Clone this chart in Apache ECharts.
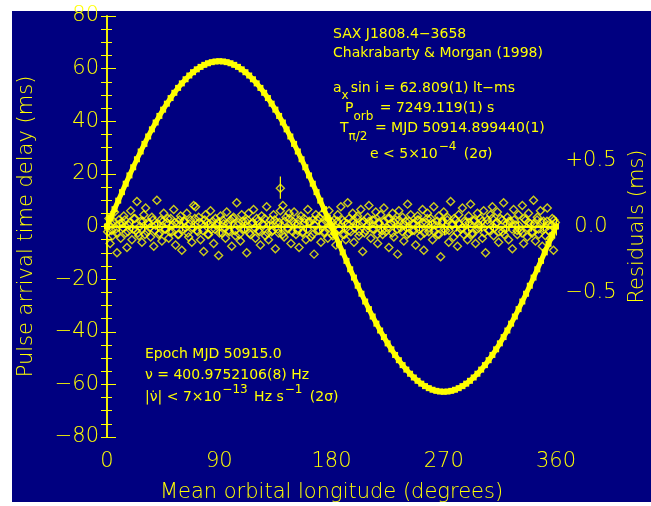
<!DOCTYPE html>
<html>
<head>
<meta charset="utf-8">
<script src="https://cdn.jsdelivr.net/npm/echarts@6/dist/echarts.min.js"></script>
<style>
html,body{margin:0;padding:0;background:#fff;}
#bg{position:absolute;left:12px;top:11px;width:639px;height:491px;background:#000080;}
#chart{position:absolute;left:0;top:0;width:651px;height:506px;}
</style>
</head>
<body>
<div id="bg"></div>
<div id="chart"></div>
<script>
// Mean orbital longitude (degrees) for the pulse delay points
const orbLon = [0,3,6,9,12,15,18,21,24,27,30,33,36,39,42,45,48,51,54,57,60,63,66,69,72,75,78,81,84,87,
  90,93,96,99,102,105,108,111,114,117,120,123,126,129,132,135,138,141,144,147,150,153,156,159,162,165,168,171,174,177,
  180,183,186,189,192,195,198,201,204,207,210,213,216,219,222,225,228,231,234,237,240,243,246,249,252,255,258,261,264,267,
  270,273,276,279,282,285,288,291,294,297,300,303,306,309,312,315,318,321,324,327,330,333,336,339,342,345,348,351,354,357,360];
// Pulse arrival time delay (ms)
const delayMs = [0,3.29,6.57,9.83,13.06,16.26,19.41,22.51,25.55,28.51,31.40,34.21,36.92,39.53,42.03,44.41,46.68,48.81,50.81,52.68,
  54.39,55.96,57.38,58.64,59.73,60.67,61.44,62.04,62.46,62.72,
  62.81,62.72,62.46,62.04,61.44,60.67,59.73,58.64,57.38,55.96,54.39,52.68,50.81,48.81,46.68,44.41,42.03,39.53,36.92,34.21,
  31.40,28.51,25.55,22.51,19.41,16.26,13.06,9.83,6.57,3.29,
  0,-3.29,-6.57,-9.83,-13.06,-16.26,-19.41,-22.51,-25.55,-28.51,-31.40,-34.21,-36.92,-39.53,-42.03,-44.41,-46.68,-48.81,-50.81,-52.68,
  -54.39,-55.96,-57.38,-58.64,-59.73,-60.67,-61.44,-62.04,-62.46,-62.72,
  -62.81,-62.72,-62.46,-62.04,-61.44,-60.67,-59.73,-58.64,-57.38,-55.96,-54.39,-52.68,-50.81,-48.81,-46.68,-44.41,-42.03,-39.53,-36.92,-34.21,
  -31.40,-28.51,-25.55,-22.51,-19.41,-16.26,-13.06,-9.83,-6.57,-3.29,0];
// Residuals: [longitude (deg), residual (ms)] - wider scatter
const residuals = [
 [0.5,-0.04],[1.5,0.06],[2.5,-0.13],[3.5,0.02],[4.5,-0.07],[6,0.11],[7,-0.02],[8,-0.2],[9.5,0.05],
 [11,-0.09],[12,0.03],[13.5,0.08],[15,-0.05],[16,-0.16],[17.5,0.01],[19,0.12],
 [20,-0.1],[21.5,0.06],[23,-0.03],[24,0.19],[25.5,-0.07],[27,0.04],[28,-0.12],[29.5,0.09],
 [31,0.14],[32,-0.04],[33.5,0.02],[35,-0.08],[36,0.07],[37.5,-0.15],[39,0.01],
 [40,0.2],[41.5,-0.06],[43,0.05],[44,-0.11],[45.5,0.1],[47,-0.02],[48,0.03],[49.5,-0.09],
 [51,0.06],[52,-0.04],[53.5,0.13],[55,-0.14],[56,0.02],[57.5,-0.06],[59,0.08],
 [60,-0.18],[61.5,0.04],[63,-0.01],[64,0.1],[65.5,-0.08],[67,0.05],[68,-0.12],[69.5,0.16],
 [71,0.15],[72,-0.03],[73.5,0.07],[75,-0.1],[76,0.02],[77.5,-0.19],[79,0.09],
 [80,0.03],[81.5,-0.06],[83,0.12],[84,-0.02],[85.5,-0.13],[87,0.06],[88,0.01],[89.5,-0.22],
 [91,0.08],[92,-0.05],[93.5,0.02],[95,-0.09],[96,0.11],[97.5,-0.03],[99,0.05],
 [100,-0.15],[101.5,0.07],[103,-0.07],[104,0.18],[105.5,0.03],[107,-0.11],[108,0.09],[109.5,-0.02],
 [111,0.04],[112,-0.2],[113.5,0.1],[115,-0.06],[116,0.02],[117.5,0.13],[119,-0.09],
 [120,0.06],[121.5,-0.03],[123,-0.14],[124,0.08],[125.5,0.01],[127,-0.07],[128,0.15],[129.5,-0.1],
 [131,0.05],[132,-0.04],[133.5,0.09],[135,-0.17],[136,0.03],[137.5,-0.05],[139,0.12],
 [141,0.16],[142,-0.08],[143.5,0.07],[145,-0.02],[146,0.1],[147.5,-0.13],[149,0.04],
 [150,0.11],[151.5,-0.06],[153,0.02],[154,-0.16],[155.5,0.08],[157,-0.04],[158,0.06],[159.5,-0.1],
 [161,0.13],[162,0.03],[163.5,-0.08],[165,0.05],[166,-0.21],[167.5,0.09],[169,-0.03],
 [170,0.07],[171.5,-0.12],[173,0.1],[174,-0.05],[175.5,0.04],[177,-0.09],[178,0.12],[179.5,0.01],
 [181,-0.07],[182,0.05],[183.5,-0.14],[185,0.09],[186,-0.02],[187.5,0.15],[189,-0.06],
 [190,0.03],[191.5,-0.1],[193,0.18],[194,0.06],[195.5,-0.04],[197,0.1],[198,-0.12],[199.5,0.02],
 [201,0.08],[202,-0.07],[203.5,0.13],[205,-0.19],[206,0.04],[207.5,-0.03],[209,0.07],
 [210,0.16],[211.5,-0.09],[213,0.05],[214,-0.02],[215.5,0.11],[217,-0.13],[218,0.03],[219.5,0.09],
 [221,-0.06],[222,0.14],[223.5,-0.04],[225,0.06],[226,-0.16],[227.5,0.02],[229,0.1],
 [230,-0.08],[231.5,0.05],[233,-0.21],[234,0.12],[235.5,-0.01],[237,0.07],[238,-0.11],[239.5,0.04],
 [241,0.17],[242,-0.05],[243.5,0.09],[245,-0.03],[246,0.02],[247.5,-0.14],[249,0.08],
 [250,0.05],[251.5,-0.07],[253,0.13],[254,-0.18],[255.5,0.03],[257,0.1],[258,-0.04],[259.5,0.06],
 [261,-0.1],[262,0.15],[263.5,0.01],[265,-0.06],[266,0.08],[267.5,-0.23],[269,0.04],
 [270,0.11],[271.5,-0.03],[273,0.07],[274,-0.12],[275.5,0.19],[277,0.02],[278,-0.08],[279.5,0.05],
 [281,-0.15],[282,0.09],[283.5,-0.02],[285,0.14],[286,-0.06],[287.5,0.03],[289,-0.1],
 [290,0.08],[291.5,0.17],[293,-0.05],[294,0.04],[295.5,-0.13],[297,0.1],[298,-0.01],[299.5,0.06],
 [301,-0.09],[302,0.12],[303.5,-0.2],[305,0.05],[306,-0.03],[307.5,0.09],[309,0.15],
 [310,-0.07],[311.5,0.02],[313,0.11],[314,-0.12],[315.5,0.06],[317,-0.04],[318,0.18],[319.5,-0.02],
 [321,0.07],[322,-0.1],[323.5,0.04],[325,-0.17],[326,0.13],[327.5,0.01],[329,-0.06],
 [330,0.09],[331.5,-0.03],[333,0.16],[334,-0.13],[335.5,0.05],[337,-0.08],[338,0.1],[339.5,0.02],
 [341,-0.05],[342,0.2],[343.5,-0.11],[345,0.07],[346,-0.02],[347.5,0.12],[349,-0.15],
 [350,0.04],[351.5,-0.07],[353,0.14],[354,0.01],[355.5,-0.09],[357,0.06],[358,-0.18],[359.5,0.03]
];
// Residuals close to zero (dense core band)
const residualsCore = [
 [1.2,0.01],[3.8,-0.03],[5.2,0.04],[7.6,-0.05],[10.2,0.02],[12.8,-0.01],[14.4,0.05],[16.8,-0.04],[18.2,0.03],[20.8,-0.02],
 [22.4,0.06],[24.8,-0.05],[26.2,0.0],[28.8,0.04],[30.4,-0.06],[32.8,0.03],[34.2,-0.01],[36.8,0.05],[38.4,-0.03],[40.8,0.02],
 [42.2,-0.05],[44.8,0.04],[46.4,-0.02],[48.8,0.06],[50.2,-0.04],[52.8,0.01],[54.4,0.03],[56.8,-0.06],[58.2,0.05],[60.8,-0.02],
 [62.4,0.04],[64.8,-0.05],[66.2,0.02],[68.8,-0.01],[70.4,0.06],[72.8,-0.04],[74.2,0.03],[76.8,-0.03],[78.4,0.05],[80.8,-0.06],
 [82.2,0.02],[84.8,0.04],[86.4,-0.02],[88.8,0.03],[90.2,-0.05],[92.8,0.05],[94.4,-0.01],[96.8,0.02],[98.2,-0.04],[100.8,0.06],
 [102.4,-0.03],[104.8,0.01],[106.2,-0.06],[108.8,0.04],[110.4,-0.02],[112.8,0.05],[114.2,-0.05],[116.8,0.03],[118.4,-0.01],[120.8,0.04],
 [122.2,-0.04],[124.8,0.02],[126.4,0.06],[128.8,-0.05],[130.2,0.01],[132.8,-0.03],[134.4,0.05],[136.8,-0.02],[138.2,0.03],[140.8,-0.06],
 [142.4,0.04],[144.8,-0.01],[146.2,0.06],[148.8,-0.04],[150.4,0.02],[152.8,-0.03],[154.2,0.05],[156.8,-0.05],[158.4,0.03],[160.8,-0.02],
 [162.2,0.04],[164.8,-0.06],[166.4,0.01],[168.8,0.05],[170.2,-0.03],[172.8,0.02],[174.4,-0.04],[176.8,0.06],[178.2,-0.01],[180.8,0.03],
 [182.4,-0.05],[184.8,0.04],[186.2,-0.02],[188.8,0.05],[190.4,-0.06],[192.8,0.02],[194.2,-0.03],[196.8,0.04],[198.4,-0.01],[200.8,0.06],
 [202.2,-0.04],[204.8,0.03],[206.4,-0.05],[208.8,0.01],[210.2,0.04],[212.8,-0.02],[214.4,0.05],[216.8,-0.06],[218.2,0.02],[220.8,-0.03],
 [222.4,0.04],[224.8,-0.01],[226.2,0.06],[228.8,-0.05],[230.4,0.03],[232.8,-0.02],[234.2,0.05],[236.8,-0.04],[238.4,0.01],[240.8,-0.06],
 [242.2,0.04],[244.8,0.02],[246.4,-0.03],[248.8,0.05],[250.2,-0.02],[252.8,0.03],[254.4,-0.05],[256.8,0.06],[258.2,-0.01],[260.8,0.02],
 [262.4,-0.04],[264.8,0.04],[266.2,-0.06],[268.8,0.03],[270.4,-0.02],[272.8,0.05],[274.2,-0.03],[276.8,0.01],[278.4,0.06],[280.8,-0.05],
 [282.2,0.02],[284.8,-0.01],[286.4,0.04],[288.8,-0.04],[290.2,0.03],[292.8,-0.06],[294.4,0.05],[296.8,-0.02],[298.2,0.01],[300.8,0.04],
 [302.4,-0.05],[304.8,0.02],[306.2,-0.03],[308.8,0.06],[310.4,-0.01],[312.8,0.03],[314.2,-0.04],[316.8,0.05],[318.4,-0.06],[320.8,0.02],
 [322.2,0.04],[324.8,-0.02],[326.4,0.05],[328.8,-0.03],[330.2,0.01],[332.8,-0.05],[334.4,0.06],[336.8,-0.01],[338.2,0.03],[340.8,-0.04],
 [342.4,0.02],[344.8,0.05],[346.2,-0.06],[348.8,0.03],[350.4,-0.02],[352.8,0.04],[354.2,-0.03],[356.8,0.01],[358.4,0.05]
];
// Outlier residual with error bar: [lon, value, low, high]
const outlier = [139, 0.29, 0.21, 0.38];
const residualZero = [[0,0],[360,0]];
const rightTickLabels = ['-0.5','0.0','+0.5'];

const YEL = '#ffff00';
const FONT = 'DejaVu Sans';
const chart = echarts.init(document.getElementById('chart'), null, {renderer:'canvas'});

const fmtMinus = v => String(v).replace('-', '\u2212');
const axisLineStyle = {show:true, lineStyle:{color:YEL, width:1.5}};

// text flow helper: segments [text, size, dy, gap]
const mctx = document.createElement('canvas').getContext('2d');
const fontStr = s => s + 'px "' + FONT + '"';
function flow(x0, y0, segs) {
  let x = x0;
  const out = [];
  segs.forEach(([t, size, dy, gap]) => {
    x += (gap || 0);
    out.push({type:'text', x:x, y:y0 + (dy||0), z:10,
      style:{text:t, fill:YEL, font:fontStr(size), verticalAlign:'middle', align:'left'}});
    mctx.font = fontStr(size);
    x += mctx.measureText(t).width;
  });
  return out;
}
const B = 14, S = 12;

const option = {
  backgroundColor:'transparent',
  animation:false,
  grid:{left:107, top:16, width:449, height:421, outerBoundsMode:'none', containLabel:false},
  xAxis:[
    {type:'value', position:'bottom', min:0, max:360, interval:90,
     axisLine:axisLineStyle, splitLine:{show:false},
     axisTick:{inside:true, length:9, lineStyle:{color:YEL}},
     minorTick:{show:true, splitNumber:9, length:5, lineStyle:{color:YEL}},
     axisLabel:{color:YEL, fontSize:21, fontFamily:FONT, fontWeight:300, margin:14},
     name:'Mean orbital longitude (degrees)', nameLocation:'middle', nameGap:45,
     nameTextStyle:{color:YEL, fontSize:21, fontFamily:FONT, fontWeight:300}},
    {type:'value', position:'top', min:0, max:360, interval:90,
     axisLine:axisLineStyle, splitLine:{show:false},
     axisTick:{inside:true, length:9, lineStyle:{color:YEL}},
     minorTick:{show:true, splitNumber:9, length:5, lineStyle:{color:YEL}},
     axisLabel:{show:false}}
  ],
  yAxis:[
    {type:'value', position:'left', min:-80, max:80, interval:20,
     axisLine:axisLineStyle, splitLine:{show:false},
     axisTick:{inside:true, length:9, lineStyle:{color:YEL}},
     minorTick:{show:true, splitNumber:4, length:5, lineStyle:{color:YEL}},
     axisLabel:{color:YEL, fontSize:21, fontFamily:FONT, fontWeight:300, margin:8, formatter:fmtMinus},
     name:'Pulse arrival time delay (ms)', nameLocation:'middle', nameGap:70,
     nameTextStyle:{color:YEL, fontSize:21, fontFamily:FONT, fontWeight:300}},
    {type:'value', position:'right', min:-1.6, max:1.6, interval:0.1,
     axisLine:axisLineStyle, splitLine:{show:false},
     axisTick:{inside:true, length:6, lineStyle:{color:YEL}},
     axisLabel:{color:YEL, fontSize:21, fontFamily:FONT, fontWeight:300, margin:35, align:'center',
       formatter:function(v){
         const k = Math.round(v*10);
         if (k === -5) return rightTickLabels[0].replace('-', '\u2212');
         if (k === 0) return rightTickLabels[1];
         if (k === 5) return rightTickLabels[2];
         return '';
       }},
     name:'Residuals (ms)', nameLocation:'middle', nameGap:66, nameRotate:90,
     nameTextStyle:{color:YEL, fontSize:21, fontFamily:FONT, fontWeight:300}}
  ],
  series:[
    {type:'line', xAxisIndex:0, yAxisIndex:1, data:residualZero, symbol:'none',
     lineStyle:{color:YEL, width:1.5}, z:2},
    {type:'scatter', xAxisIndex:0, yAxisIndex:1, data:residuals, symbol:'diamond', symbolSize:8,
     itemStyle:{color:'rgba(0,0,0,0)', borderColor:YEL, borderWidth:1.4}, z:3},
    {type:'scatter', xAxisIndex:0, yAxisIndex:1, data:residualsCore, symbol:'diamond', symbolSize:8,
     itemStyle:{color:'rgba(0,0,0,0)', borderColor:YEL, borderWidth:1.4}, z:3},
    {type:'scatter', xAxisIndex:0, yAxisIndex:1, data:[[outlier[0], outlier[1]]], symbol:'diamond', symbolSize:8,
     itemStyle:{color:'rgba(0,0,0,0)', borderColor:YEL, borderWidth:1.4}, z:3},
    {type:'line', xAxisIndex:0, yAxisIndex:1, data:[[outlier[0], outlier[2]],[outlier[0], outlier[3]]], symbol:'none',
     lineStyle:{color:YEL, width:1.2}, z:3},
    {type:'line', xAxisIndex:0, yAxisIndex:0, data:orbLon.map((x,i)=>[x, delayMs[i]]),
     symbol:'rect', symbolSize:6, itemStyle:{color:YEL}, lineStyle:{color:YEL, width:5}, z:4}
  ],
  graphic:[].concat(
    flow(333, 34, [['SAX J1808.4\u22123658', B]]),
    flow(333, 53, [['Chakrabarty & Morgan (1998)', B]]),
    flow(333, 88, [['a', B], ['x', S, 8], ['sin i = 62.809(1) lt\u2212ms', B, 0, 2]]),
    flow(345, 108, [['P', B], ['orb', S, 9], [' = 7249.119(1) s', B, 0, 2]]),
    flow(340, 128, [['T', B], ['\u03c0/2', S, 9], [' = MJD 50914.899440(1)', B, 0, 3]]),
    flow(370, 154, [['e < 5\u00d710', B], ['\u22124', S, -7, 1], [' (2\u03c3)', B, 0, 3]]),
    flow(145, 354, [['Epoch MJD 50915.0', B]]),
    flow(145, 375, [['\u03bd = 400.9752106(8) Hz', B]]),
    flow(145, 397, [['|\u03bd\u0307| < 7\u00d710', B], ['\u221213', S, -7, 1], [' Hz s', B, 0, 2], ['\u22121', S, -7, 1], [' (2\u03c3)', B, 0, 3]])
  )
};
chart.setOption(option);
</script>
</body>
</html>
